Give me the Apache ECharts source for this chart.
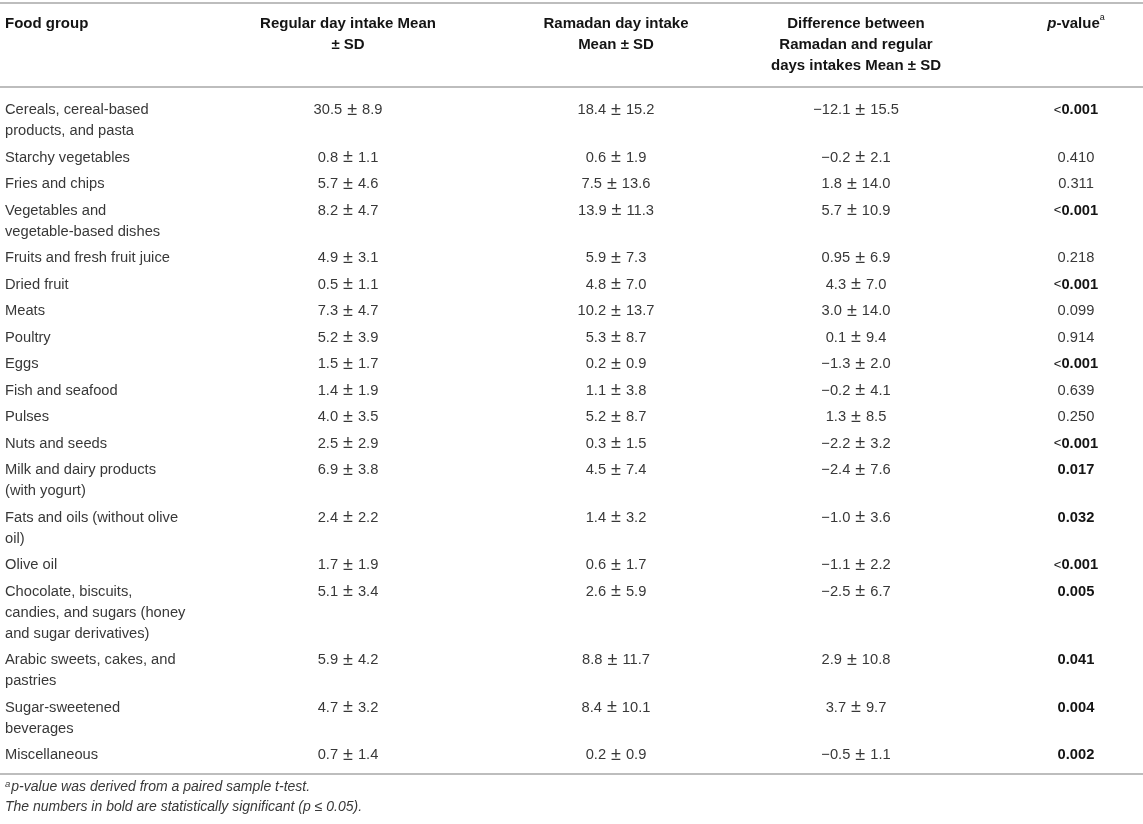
<!DOCTYPE html>
<html>
<head>
<meta charset="utf-8">
<title>Food group intake: regular vs Ramadan days</title>
<script src="https://cdn.jsdelivr.net/npm/echarts@6/dist/echarts.min.js"></script>
<style>
  html, body { margin: 0; padding: 0; background: #fff; }
  #table { width: 1143px; height: 824px; }
</style>
</head>
<body>
<div id="table"></div>
<script>
// table content
const headers = [
  'Food group',
  'Regular day intake Mean\n± SD',
  'Ramadan day intake\nMean ± SD',
  'Difference between\nRamadan and regular\ndays intakes Mean ± SD',
  '{pi|p}{hb|-value}{sup|a}'
]

const foodGroups = [
  'Cereals, cereal-based\nproducts, and pasta',
  'Starchy vegetables',
  'Fries and chips',
  'Vegetables and\nvegetable-based dishes',
  'Fruits and fresh fruit juice',
  'Dried fruit',
  'Meats',
  'Poultry',
  'Eggs',
  'Fish and seafood',
  'Pulses',
  'Nuts and seeds',
  'Milk and dairy products\n(with yogurt)',
  'Fats and oils (without olive\noil)',
  'Olive oil',
  'Chocolate, biscuits,\ncandies, and sugars (honey\nand sugar derivatives)',
  'Arabic sweets, cakes, and\npastries',
  'Sugar-sweetened\nbeverages',
  'Miscellaneous'
]

const regularDay = [
  '30.5 ± 8.9', '0.8 ± 1.1', '5.7 ± 4.6', '8.2 ± 4.7', '4.9 ± 3.1',
  '0.5 ± 1.1', '7.3 ± 4.7', '5.2 ± 3.9', '1.5 ± 1.7', '1.4 ± 1.9',
  '4.0 ± 3.5', '2.5 ± 2.9', '6.9 ± 3.8', '2.4 ± 2.2', '1.7 ± 1.9',
  '5.1 ± 3.4', '5.9 ± 4.2', '4.7 ± 3.2', '0.7 ± 1.4'
]

const ramadanDay = [
  '18.4 ± 15.2', '0.6 ± 1.9', '7.5 ± 13.6', '13.9 ± 11.3', '5.9 ± 7.3',
  '4.8 ± 7.0', '10.2 ± 13.7', '5.3 ± 8.7', '0.2 ± 0.9', '1.1 ± 3.8',
  '5.2 ± 8.7', '0.3 ± 1.5', '4.5 ± 7.4', '1.4 ± 3.2', '0.6 ± 1.7',
  '2.6 ± 5.9', '8.8 ± 11.7', '8.4 ± 10.1', '0.2 ± 0.9'
]

const difference = [
  '−12.1 ± 15.5', '−0.2 ± 2.1', '1.8 ± 14.0', '5.7 ± 10.9', '0.95 ± 6.9',
  '4.3 ± 7.0', '3.0 ± 14.0', '0.1 ± 9.4', '−1.3 ± 2.0', '−0.2 ± 4.1',
  '1.3 ± 8.5', '−2.2 ± 3.2', '−2.4 ± 7.6', '−1.0 ± 3.6', '−1.1 ± 2.2',
  '−2.5 ± 6.7', '2.9 ± 10.8', '3.7 ± 9.7', '−0.5 ± 1.1'
]

const pValues = [
  '<0.001', '0.410', '0.311', '<0.001', '0.218',
  '<0.001', '0.099', '0.914', '<0.001', '0.639',
  '0.250', '<0.001', '0.017', '0.032', '<0.001',
  '0.005', '0.041', '0.004', '0.002'
]

// bold in the source table (p <= 0.05)
const significant = pValues.map(p => p.startsWith('<') || parseFloat(p) <= 0.05)

const footnotes = [
  '{sup|a}{it|p-value was derived from a paired sample t-test.}',
  '{it|The numbers in bold are statistically significant (p ≤ 0.05).}'
]

// layout / style
const W = 1143, H = 824
const FONT = '"Liberation Sans", Arial, Helvetica, sans-serif'
const FS = 14.7
const HFS = 15
const LINE = 21
const colX = [5, 348, 616, 856, 1076]
const headerTop = 13
const firstRowMid = 110
const rowStep = 26.5
const ruleTop = 3, ruleHead = 87, ruleBottom = 774
const footY = [787, 807]
const TEXT = '#383838'
const BOLD = '#141414'
const RULE = '#bdbdbd'

const nLines = s => s.split('\n').length

// vertical middle of each row's first line
const rowMid = []
let acc = firstRowMid
foodGroups.forEach(g => {
  rowMid.push(acc)
  acc += rowStep + (nLines(g) - 1) * LINE
})

const columnsData = [foodGroups, regularDay, ramadanDay, difference, pValues]

const cells = []
foodGroups.forEach((g, r) => {
  for (let c = 0; c < columnsData.length; c++) cells.push([c, r])
})

const richBase = {
  pi: { fontFamily: FONT, fontSize: HFS, fontStyle: 'italic', fontWeight: 'bold', fill: BOLD },
  hb: { fontFamily: FONT, fontSize: HFS, fontWeight: 'bold', fill: BOLD },
  sup: { fontFamily: FONT, fontSize: 9, fill: BOLD, verticalAlign: 'top', padding: [0, 0, 6, 0] },
  pm: { fontFamily: FONT, fontSize: 18, fill: TEXT, padding: [0, 5, 0, 5] },
  n: { fontFamily: FONT, fontSize: FS, fill: TEXT },
  lt: { fontFamily: FONT, fontSize: 13, fill: BOLD },
  b: { fontFamily: FONT, fontSize: FS, fontWeight: 'bold', fill: BOLD }
}

// the typeset table uses a larger ± glyph
function pmText(v) {
  const parts = v.split(' ± ')
  if (parts.length < 2) return v
  return '{n|' + parts[0] + '}{pm|±}{n|' + parts[1] + '}'
}

function cellText(c, r) {
  const v = columnsData[c][r]
  if (c === 4) {
    if (!significant[r]) return v
    if (v.startsWith('<')) return '{lt|<}{b|' + v.slice(1) + '}'
    return '{b|' + v + '}'
  }
  if (c === 0) return v
  return pmText(v)
}

const option = {
  animation: false,
  backgroundColor: '#fff',
  grid: { left: 0, right: 0, top: 0, bottom: 0 },
  xAxis: { type: 'value', min: 0, max: W, show: false },
  yAxis: { type: 'value', min: 0, max: H, inverse: true, show: false },
  series: [
    {
      // horizontal rules
      type: 'custom',
      silent: true,
      data: [[ruleTop], [ruleHead], [ruleBottom]],
      renderItem: function (params, api) {
        const a = api.coord([0, api.value(0)])
        const b = api.coord([W, api.value(0)])
        return {
          type: 'line',
          shape: { x1: a[0], y1: a[1], x2: b[0], y2: b[1] },
          style: { stroke: RULE, lineWidth: 2 }
        }
      }
    },
    {
      // header row
      type: 'custom',
      silent: true,
      data: headers.map((h, c) => [c]),
      renderItem: function (params, api) {
        const c = api.value(0)
        const p = api.coord([colX[c], headerTop])
        return {
          type: 'text',
          style: {
            text: headers[c],
            x: p[0], y: p[1],
            align: c === 0 ? 'left' : 'center',
            verticalAlign: 'top',
            font: 'bold ' + HFS + 'px ' + FONT,
            fill: BOLD,
            lineHeight: LINE,
            rich: richBase
          }
        }
      }
    },
    {
      // body cells
      type: 'custom',
      silent: true,
      data: cells,
      renderItem: function (params, api) {
        const c = api.value(0), r = api.value(1)
        const p = api.coord([colX[c], rowMid[r] - LINE / 2])
        return {
          type: 'text',
          style: {
            text: cellText(c, r),
            x: p[0], y: p[1],
            align: c === 0 ? 'left' : 'center',
            verticalAlign: 'top',
            font: FS + 'px ' + FONT,
            fill: TEXT,
            lineHeight: LINE,
            rich: richBase
          }
        }
      }
    },
    {
      // footnotes
      type: 'custom',
      silent: true,
      data: footnotes.map((f, i) => [i]),
      renderItem: function (params, api) {
        const i = api.value(0)
        const p = api.coord([colX[0], footY[i]])
        return {
          type: 'text',
          style: {
            text: footnotes[i],
            x: p[0], y: p[1],
            align: 'left',
            verticalAlign: 'middle',
            rich: {
              it: { fontFamily: FONT, fontSize: 14, fontStyle: 'italic', fill: TEXT },
              sup: { fontFamily: FONT, fontSize: 9.5, fontStyle: 'italic', fill: TEXT, verticalAlign: 'top', padding: [0, 1, 6, 0] }
            }
          }
        }
      }
    }
  ]
}

const chart = echarts.init(document.getElementById('table'))
chart.setOption(option)
</script>
</body>
</html>
